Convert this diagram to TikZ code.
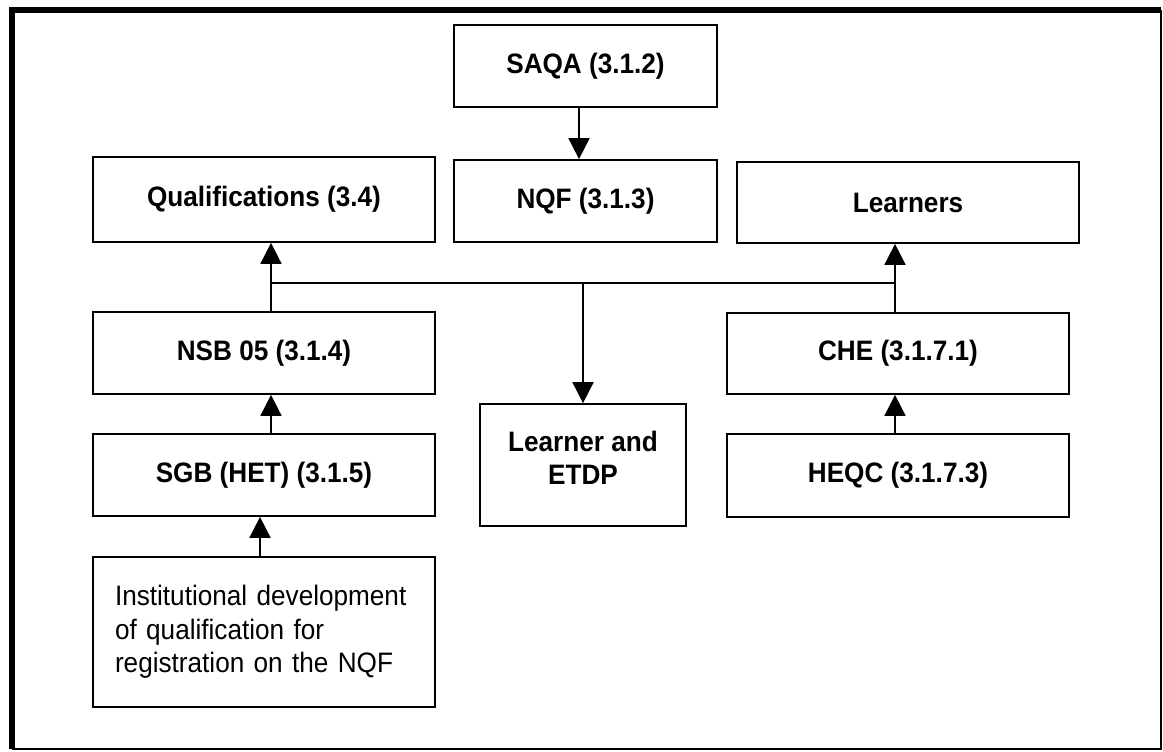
\documentclass[tikz,border=0pt]{standalone}
\usepackage{fontspec}
\setmainfont[FakeStretch=0.93]{Liberation Sans}
\usetikzlibrary{arrows.meta,positioning,calc}

\begin{document}
\begin{tikzpicture}[x=0.02cm, y=-0.02cm,
    box/.style={draw, line width=1pt, inner sep=0pt, minimum height=1.64cm,
      font=\fontsize{16}{19}\selectfont\bfseries, align=center},
    link/.style={line width=1pt, -{Triangle[length=0.42cm, width=0.42cm]}},
    bus/.style={line width=1pt}]
    \useasboundingbox (0,0) rectangle (1163,751);
    % frame: heavy on the left and top, thin on the right and bottom
    \draw[line width=0.9pt] (1161,10) -- (1161,749) -- (12,749);
    \draw[line width=3.4pt] (12,749) -- (12,10) -- (1161,10);
    % top row
    \node[box, minimum width=5.26cm] (saqa) at (585.5,66) {SAQA (3.1.2)};
    \node[box, minimum width=5.26cm] (nqf) at (585.5,201) {NQF (3.1.3)};
    \node[box, minimum width=6.84cm, minimum height=1.7cm] (qual) at (264,199.5) {Qualifications (3.4)};
    \node[box, minimum width=6.84cm, minimum height=1.62cm] (learners) at (908,202.5) {Learners};
    % left column
    \node[box, minimum width=6.84cm] (nsb) at (264,353) {NSB 05 (3.1.4)};
    \node[box, minimum width=6.84cm] (sgb) at (264,475) {SGB (HET) (3.1.5)};
    \node[box, minimum width=6.84cm, minimum height=3cm, font=\fontsize{16}{19}\selectfont,
      align=left, text width=5.96cm, inner xsep=0.44cm] (inst) at (264,632)
      {Institutional development\\of qualification for\\registration on the NQF};
    % middle and right
    \node[box, minimum width=4.12cm, minimum height=2.44cm, text depth=0.3cm] (etdp) at (583,465) {Learner and\\ETDP};
    \node[box, minimum width=6.84cm, minimum height=1.62cm] (che) at (898,353.5) {CHE (3.1.7.1)};
    \node[box, minimum width=6.84cm, minimum height=1.66cm] (heqc) at (898,475.5) {HEQC (3.1.7.3)};
    % joining line
    \coordinate (busL) at (271,283);
    \coordinate (busR) at (895,283);
    \draw[bus] (busL) -- (busR);
    % connectors
    \draw[link] (saqa.south -| 579,0) -- (nqf.north -| 579,0);
    \draw[link] (busL |- nsb.north) -- (busL |- qual.south);
    \draw[link] (busL |- sgb.north) -- (busL |- nsb.south);
    \draw[link] (inst.north -| 260,0) -- (sgb.south -| 260,0);
    \draw[link] (etdp.north |- busL) -- (etdp.north);
    \draw[link] (busR |- che.north) -- (busR |- learners.south);
    \draw[link] (busR |- heqc.north) -- (busR |- che.south);
\end{tikzpicture}
\end{document}
